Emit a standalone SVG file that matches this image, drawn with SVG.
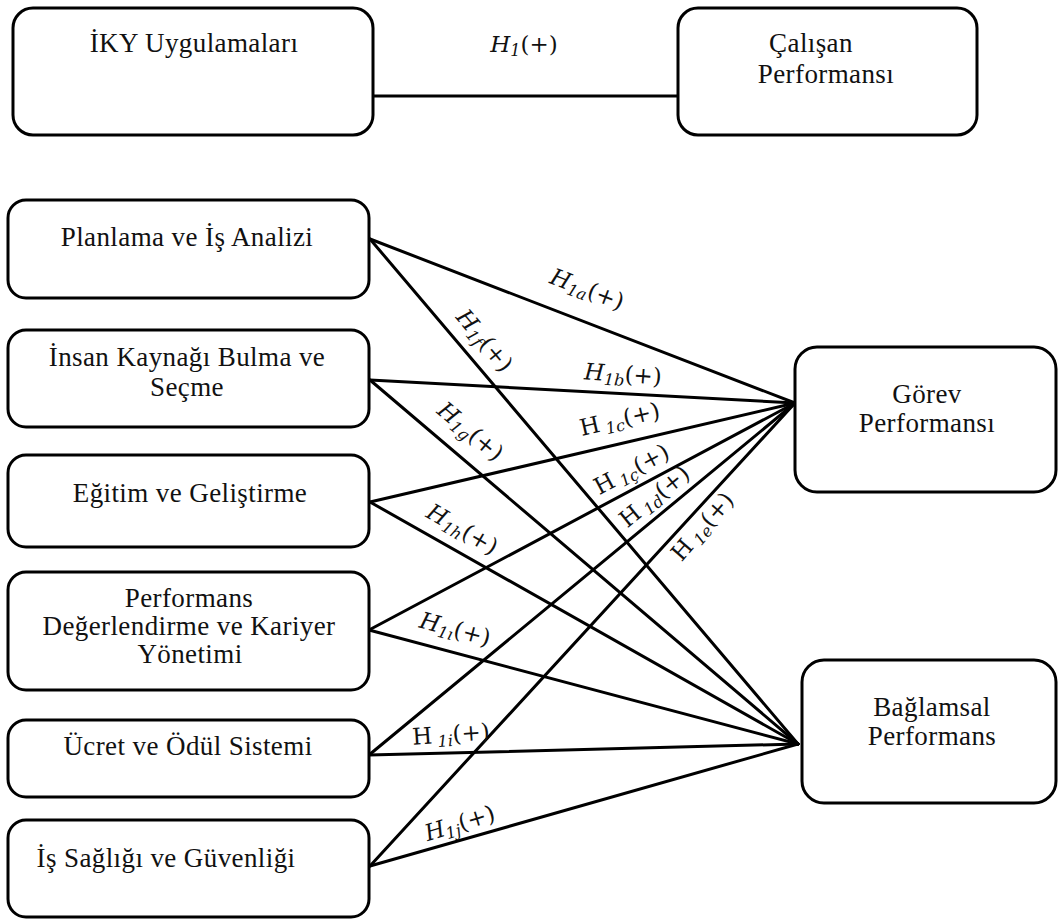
<svg xmlns="http://www.w3.org/2000/svg" width="1058" height="919" viewBox="0 0 1058 919">
<style>
.box{fill:#fff;stroke:#000;stroke-width:3}
.t{font-family:"Liberation Serif","Times New Roman","DejaVu Serif",serif;font-size:27px;letter-spacing:0.4px;fill:#111;text-anchor:middle}
.ln{stroke:#000;stroke-width:3;fill:none;stroke-linecap:round}
.lab{font-family:"DejaVu Serif","Liberation Serif",serif;font-size:23px;fill:#111;text-anchor:middle}
.it{font-style:italic}
.sub{font-size:16px;font-style:italic}
</style>
<rect width="1058" height="919" fill="#fff"/>
<g id="connectors">
<line class="ln" x1="373" y1="96" x2="678" y2="96"/>
<line class="ln" x1="370" y1="239" x2="795" y2="403"/>
<line class="ln" x1="370" y1="239" x2="798" y2="744"/>
<line class="ln" x1="370" y1="380" x2="795" y2="403"/>
<line class="ln" x1="370" y1="380" x2="798" y2="744"/>
<line class="ln" x1="370" y1="502" x2="795" y2="403"/>
<line class="ln" x1="370" y1="502" x2="798" y2="744"/>
<line class="ln" x1="369" y1="630" x2="795" y2="403"/>
<line class="ln" x1="369" y1="630" x2="798" y2="744"/>
<line class="ln" x1="369" y1="755" x2="795" y2="403"/>
<line class="ln" x1="369" y1="755" x2="798" y2="744"/>
<line class="ln" x1="370" y1="866" x2="795" y2="403"/>
<line class="ln" x1="370" y1="866" x2="798" y2="744"/>
<g id="labels">
<text class="lab" x="524" y="52"><tspan class="it">H</tspan><tspan class="sub" dy="4">1</tspan><tspan dy="-4">(+)</tspan></text>
<text class="lab" transform="translate(587,290) rotate(21)" y="7"><tspan class="it">H</tspan><tspan class="sub" dy="4">1a</tspan><tspan dy="-4">(+)</tspan></text>
<text class="lab" transform="translate(484,341) rotate(50)" y="7"><tspan class="it">H</tspan><tspan class="sub" dy="4">1f</tspan><tspan dy="-4">(+)</tspan></text>
<text class="lab" transform="translate(623,375) rotate(4)" y="7"><tspan class="it">H</tspan><tspan class="sub" dy="4">1b</tspan><tspan dy="-4">(+)</tspan></text>
<text class="lab" transform="translate(470,432) rotate(40)" y="7"><tspan class="it">H</tspan><tspan class="sub" dy="4">1g</tspan><tspan dy="-4">(+)</tspan></text>
<text class="lab" transform="translate(620,420) rotate(-13)" y="7">H<tspan class="sub" dy="4"> 1c</tspan><tspan dy="-4">(+)</tspan></text>
<text class="lab" transform="translate(632,470) rotate(-28)" y="7">H<tspan class="sub" dy="4"> 1ç</tspan><tspan dy="-4">(+)</tspan></text>
<text class="lab" transform="translate(655,497) rotate(-39)" y="7">H<tspan class="sub" dy="4"> 1d</tspan><tspan dy="-4">(+)</tspan></text>
<text class="lab" transform="translate(703,527) rotate(-49)" y="7">H<tspan class="sub" dy="4"> 1e</tspan><tspan dy="-4">(+)</tspan></text>
<text class="lab" transform="translate(462,530) rotate(30)" y="7"><tspan class="it">H</tspan><tspan class="sub" dy="4">1h</tspan><tspan dy="-4">(+)</tspan></text>
<text class="lab" transform="translate(455,630) rotate(15)" y="7"><tspan class="it">H</tspan><tspan class="sub" dy="4">1ı</tspan><tspan dy="-4">(+)</tspan></text>
<text class="lab" transform="translate(451,735) rotate(-4)" y="7">H<tspan class="sub" dy="4"> 1i</tspan><tspan dy="-4">(+)</tspan></text>
<text class="lab" transform="translate(460,824) rotate(-17)" y="7"><tspan class="it">H</tspan><tspan class="sub" dy="4">1j</tspan><tspan dy="-4">(+)</tspan></text>
</g>
</g>
<g id="iky"><rect class="box" x="13" y="8" width="360" height="127" rx="20"/><text class="t" x="194" y="52">İKY Uygulamaları</text></g>
<g id="calisan"><rect class="box" x="678" y="8" width="299" height="127" rx="20"/><text class="t" x="811" y="52">Çalışan</text><text class="t" x="826" y="83">Performansı</text></g>
<g id="planlama"><rect class="box" x="8" y="200" width="361" height="98" rx="18"/><text class="t" x="187" y="246">Planlama ve İş Analizi</text></g>
<g id="insan"><rect class="box" x="8" y="330" width="361" height="97" rx="18"/><text class="t" x="187" y="366">İnsan Kaynağı Bulma ve</text><text class="t" x="187" y="396">Seçme</text></g>
<g id="egitim"><rect class="box" x="8" y="455" width="361" height="92" rx="18"/><text class="t" x="190" y="502">Eğitim ve Geliştirme</text></g>
<g id="performans"><rect class="box" x="8" y="572" width="361" height="118" rx="18"/><text class="t" x="189" y="607">Performans</text><text class="t" x="189" y="635">Değerlendirme ve Kariyer</text><text class="t" x="190" y="663">Yönetimi</text></g>
<g id="ucret"><rect class="box" x="8" y="720" width="361" height="77" rx="18"/><text class="t" x="188" y="755">Ücret ve Ödül Sistemi</text></g>
<g id="is"><rect class="box" x="8" y="820" width="361" height="97" rx="18"/><text class="t" x="166" y="867">İş Sağlığı ve Güvenliği</text></g>
<g id="gorev"><rect class="box" x="795" y="347" width="261" height="145" rx="22"/><text class="t" x="927" y="403">Görev</text><text class="t" x="927" y="432">Performansı</text></g>
<g id="baglamsal"><rect class="box" x="802" y="660" width="254" height="143" rx="22"/><text class="t" x="932" y="716">Bağlamsal</text><text class="t" x="932" y="745">Performans</text></g>
</svg>
